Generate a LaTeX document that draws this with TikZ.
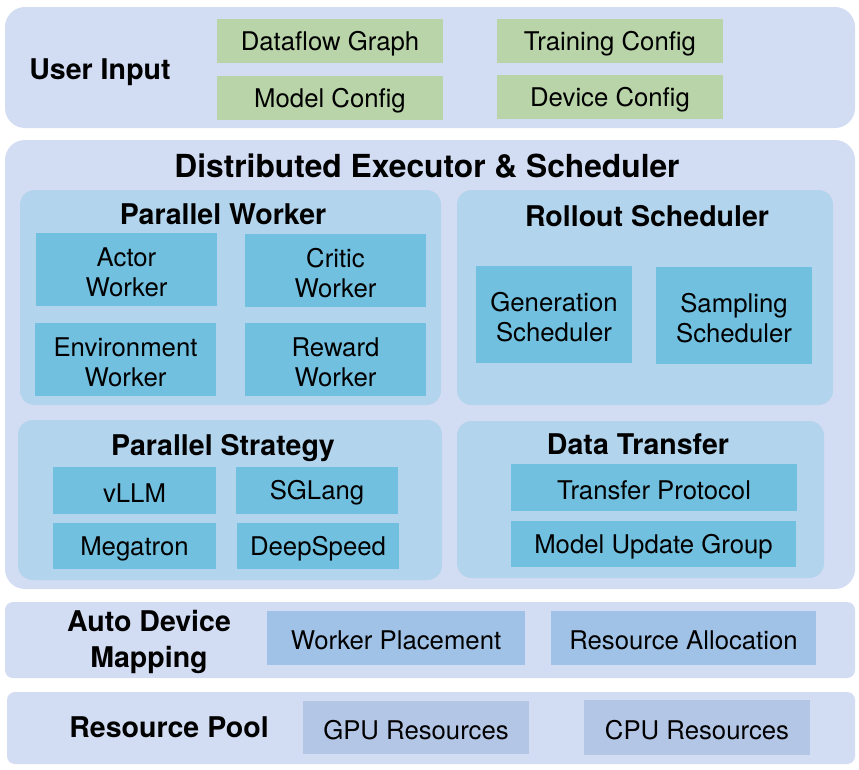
\documentclass[tikz,border=0pt]{standalone}
\usepackage{fontspec}
\setmainfont{TeX Gyre Heros}
\definecolor{layerbg}{RGB}{210,220,242}
\definecolor{panelbg}{RGB}{178,212,236}
\definecolor{cellbg}{RGB}{114,192,224}
\definecolor{inputbg}{RGB}{184,212,168}
\definecolor{mapbg}{RGB}{160,194,230}
\definecolor{poolbg}{RGB}{180,198,230}
% box with a named text node in its middle
\newcommand\blk[7]{\fill[#1] (#2,#3) rectangle (#4,#5);
  \node[txt] (#6) at ({(#2+#4)/2},{(#3+#5)/2}) {#7};}
\begin{document}
\begin{tikzpicture}[x=0.75pt,y=-0.75pt,line join=round,
  txt/.style={inner sep=0pt,align=center,yshift=-2pt,font=\fontsize{19.3}{22.5}\selectfont},
  head/.style={inner sep=0pt,align=center,anchor=base,font=\bfseries\fontsize{21.4}{27}\selectfont},
  layer/.style={fill=layerbg,rounded corners=15pt},
  slab/.style={fill=layerbg,rounded corners=6pt},
  panel/.style={fill=panelbg,rounded corners=11pt}]
\useasboundingbox (0,0) rectangle (859,769);
% user input
\fill[layer] (5,7) rectangle (855,128);
\node[head] (userin) at (100,79) {User Input};
\blk{inputbg}{217}{19}{443}{63}{dataflow}{Dataflow Graph}
\blk{inputbg}{217}{76}{443}{120}{modelcfg}{Model Config}
\blk{inputbg}{497}{19}{723}{63}{traincfg}{Training Config}
\blk{inputbg}{497}{75}{723}{119}{devicecfg}{Device Config}
% executor and scheduler
\fill[layer] (5,140) rectangle (855,589);
\node[head,font=\bfseries\fontsize{23.8}{27}\selectfont] (executor) at (427,177) {Distributed Executor \& Scheduler};
\fill[panel] (20,190) rectangle (441,405);
\node[head] (pworker) at (223,224) {Parallel Worker};
\blk{cellbg}{36}{233}{217}{306}{actor}{Actor\\Worker}
\blk{cellbg}{245}{234}{426}{307}{critic}{Critic\\Worker}
\blk{cellbg}{35}{323}{216}{396}{env}{Environment\\Worker}
\blk{cellbg}{245}{323}{426}{396}{reward}{Reward\\Worker}
\fill[panel] (457,190) rectangle (833,405);
\node[head] (rollout) at (647,226) {Rollout Scheduler};
\blk{cellbg}{476}{266}{632}{363}{gensched}{Generation\\Scheduler}
\blk{cellbg}{656}{267}{812}{364}{sampsched}{Sampling\\Scheduler}
\fill[panel] (18,420) rectangle (442,580);
\node[head] (pstrategy) at (223,455) {Parallel Strategy};
\blk{cellbg}{53}{467}{216}{514}{vllm}{vLLM}
\blk{cellbg}{236}{467}{398}{514}{sglang}{SGLang}
\blk{cellbg}{53}{523}{216}{569}{megatron}{Megatron}
\blk{cellbg}{237}{523}{399}{569}{deepspeed}{DeepSpeed}
\fill[panel] (457,421) rectangle (824,578);
\node[head] (transfer) at (638,454) {Data Transfer};
\blk{cellbg}{511}{464}{797}{511}{protocol}{Transfer Protocol}
\blk{cellbg}{511}{521}{796}{567}{update}{Model Update Group}
% device mapping
\fill[slab] (5,602) rectangle (855,678);
\node[head,anchor=center] (mapping) at (149,642) {Auto Device\\Mapping};
\blk{mapbg}{267}{611}{525}{665}{placement}{Worker Placement}
\blk{mapbg}{551}{611}{816}{665}{allocation}{Resource Allocation}
% resource pool
\fill[slab] (7,692) rectangle (855,764);
\node[head] (pool) at (169,737) {Resource Pool};
\blk{poolbg}{303}{701}{529}{754}{gpu}{GPU Resources}
\blk{poolbg}{584}{700}{810}{755}{cpu}{CPU Resources}
\end{tikzpicture}
\end{document}
